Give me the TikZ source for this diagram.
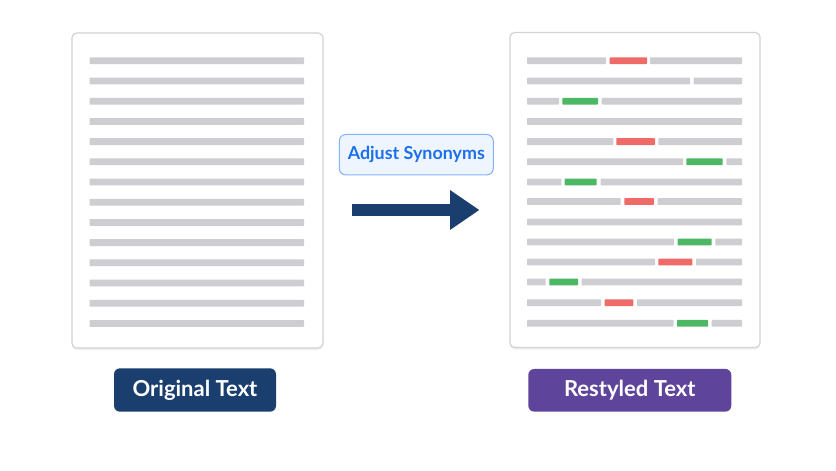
\documentclass[tikz,border=0pt]{standalone}
\usepackage{fontspec}
\newfontfamily\labfont{Lato}
\usetikzlibrary{arrows.meta,shadows}
\definecolor{navy}{HTML}{1A3E6E}
\definecolor{purp}{HTML}{5E449A}
\definecolor{adjtext}{HTML}{1D6FEB}
\definecolor{adjfill}{HTML}{EEF5FF}
\definecolor{adjborder}{HTML}{86B3F5}
\definecolor{docborder}{HTML}{D2D2D7}
\definecolor{linegray}{HTML}{CDCDD2}
\definecolor{segred}{HTML}{EE6B67}
\definecolor{seggreen}{HTML}{4DB864}
\tikzset{
  docbox/.style={draw=docborder, line width=0.9pt, fill=white, rounded corners=3.5pt,
    drop shadow={opacity=0.12, shadow xshift=0pt, shadow yshift=-1.5pt},
    minimum width=251*0.75pt, minimum height=315*0.75pt, inner sep=0pt},
  tag/.style={rounded corners=4.5pt, inner sep=0pt, text=white,
    font=\labfont\bfseries\fontsize{16.5}{19}\selectfont},
  adjbox/.style={draw=adjborder, line width=0.8pt, fill=adjfill, rounded corners=5pt,
    text=adjtext, inner sep=0pt, minimum width=154*0.75pt, minimum height=40.5*0.75pt,
    font=\labfont\bfseries\fontsize{13.4}{16}\selectfont},
  flowarrow/.style={draw=navy, line width=8.8pt,
    -{Triangle[length=22pt, width=28.2pt]}}
}
% \seg{color}{x1}{x2}{ycenter}
\newcommand\seg[4]{\fill[#1, rounded corners=0.5pt] (#2,#4-3.4) rectangle (#3,#4+3.4);}
\begin{document}
\begin{tikzpicture}[x=0.75pt, y=-0.75pt]
\useasboundingbox[fill=white] (0,0) rectangle (836,471);
% documents
\node[docbox] (ldoc) at (197.5,190.5) {};
\node[docbox, minimum width=250*0.75pt, minimum height=315*0.75pt] (rdoc) at (635,190) {};
% left lines
\foreach \y in {60.7,81,101.2,121.4,141.6,161.8,182,202.2,222.4,242.6,262.8,283,303.2,323.4}{
  \seg{linegray}{89.5}{304}{\y}
}
% right lines
\seg{linegray}{527}{606}{60.7}\seg{segred}{609.7}{647}{60.7}\seg{linegray}{650}{742}{60.7}
\seg{linegray}{527}{690}{81}\seg{linegray}{693.7}{742}{81}
\seg{linegray}{527}{559}{101.2}\seg{seggreen}{562.3}{598}{101.2}\seg{linegray}{601.7}{742}{101.2}
\seg{linegray}{527}{742}{121.4}
\seg{linegray}{527}{613.3}{141.6}\seg{segred}{616.3}{655}{141.6}\seg{linegray}{658.3}{742}{141.6}
\seg{linegray}{527}{683}{161.8}\seg{seggreen}{686.3}{722.7}{161.8}\seg{linegray}{726.3}{742}{161.8}
\seg{linegray}{527}{561.3}{182}\seg{seggreen}{564.7}{596.7}{182}\seg{linegray}{600.7}{742}{182}
\seg{linegray}{527}{620.7}{201.5}\seg{segred}{624.3}{654}{201.5}\seg{linegray}{657.7}{742}{201.5}
\seg{linegray}{527}{742}{222}
\seg{linegray}{527}{674}{242}\seg{seggreen}{677.7}{711.7}{242}\seg{linegray}{715.3}{742}{242}
\seg{linegray}{527}{655}{262}\seg{segred}{658.3}{692.3}{262}\seg{linegray}{696}{742}{262}
\seg{linegray}{527}{545.7}{282}\seg{seggreen}{549.3}{578}{282}\seg{linegray}{581.7}{742}{282}
\seg{linegray}{527}{601}{302.7}\seg{segred}{604.7}{633.3}{302.7}\seg{linegray}{637}{742}{302.7}
\seg{linegray}{527}{673.7}{323.3}\seg{seggreen}{677}{708}{323.3}\seg{linegray}{711.7}{742}{323.3}
% label and arrow
\node[adjbox] (adj) at (416.3,154.7) {Adjust Synonyms};
\coordinate (astart) at (352,210);
\coordinate (aend) at (479.5,210);
\draw[flowarrow] (astart) -- (aend);
% tags
\node[tag, fill=navy, minimum width=162*0.75pt, minimum height=43.4*0.75pt] (ltag) at (195,390) {Original Text};
\node[tag, fill=purp, minimum width=203*0.75pt, minimum height=42.7*0.75pt] (rtag) at (629.8,390.3) {Restyled Text};
\end{tikzpicture}
\end{document}
